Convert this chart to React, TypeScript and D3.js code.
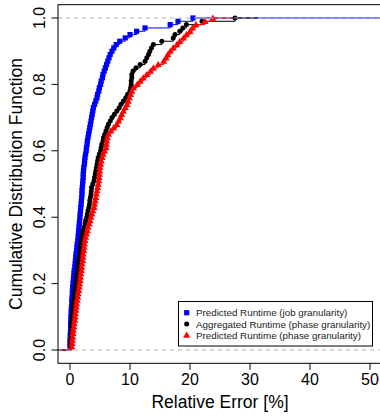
import React from "react";
import * as d3 from "d3";

// ---- data (sorted relative errors, %, one per observation) ----
const jobPred = [
  0.0, 0.0, 0.0, 0.05, 0.05, 0.1, 0.1, 0.1, 0.15, 0.15,
  0.2, 0.2, 0.25, 0.3, 0.3, 0.35, 0.4, 0.4, 0.45, 0.5,
  0.55, 0.6, 0.65, 0.7, 0.8, 0.85, 0.9, 0.95, 1.0, 1.1,
  1.15, 1.2, 1.3, 1.35, 1.4, 1.45, 1.5, 1.55, 1.6, 1.65,
  1.7, 1.75, 1.8, 1.85, 1.9, 1.95, 2.0, 2.0, 2.05, 2.1,
  2.15, 2.2, 2.2, 2.25, 2.3, 2.4, 2.45, 2.5, 2.6, 2.7,
  2.75, 2.85, 2.9, 3.0, 3.1, 3.2, 3.3, 3.4, 3.5, 3.6,
  3.7, 3.8, 3.9, 4.1, 4.3, 4.5, 4.6, 4.8, 4.9, 5.1,
  5.2, 5.4, 5.5, 5.7, 5.9, 6.1, 6.3, 6.5, 6.7, 7.0,
  7.3, 7.7, 8.3, 9.2, 10.0, 11.1, 12.5, 16.7, 18.0, 20.5,
];
const phaseAgg = [
  0.1, 0.1, 0.15, 0.2, 0.2, 0.25, 0.25, 0.3, 0.3, 0.4,
  0.45, 0.5, 0.55, 0.6, 0.65, 0.7, 0.8, 0.85, 0.9, 1.0,
  1.1, 1.15, 1.2, 1.3, 1.35, 1.4, 1.5, 1.55, 1.6, 1.7,
  1.75, 1.8, 1.9, 2.0, 2.1, 2.2, 2.35, 2.5, 2.6, 2.8,
  2.9, 3.0, 3.15, 3.25, 3.3, 3.4, 3.5, 3.55, 3.6, 3.8,
  4.0, 4.1, 4.2, 4.3, 4.4, 4.5, 4.6, 4.7, 4.9, 5.1,
  5.2, 5.3, 5.5, 5.6, 5.8, 6.0, 6.2, 6.4, 6.7, 7.0,
  7.4, 7.8, 8.2, 8.5, 8.9, 9.3, 9.6, 10.0, 10.1, 10.2,
  10.2, 10.3, 10.3, 10.5, 11.0, 11.7, 12.5, 12.8, 13.1, 13.3,
  13.6, 13.9, 15.3, 17.2, 17.5, 18.3, 18.8, 19.4, 22.0, 27.5,
];
const phasePred = [
  0.3, 0.35, 0.4, 0.45, 0.5, 0.55, 0.65, 0.7, 0.8, 0.85,
  0.9, 1.0, 1.05, 1.1, 1.2, 1.3, 1.35, 1.45, 1.55, 1.6,
  1.7, 1.75, 1.8, 1.9, 1.95, 2.0, 2.1, 2.15, 2.2, 2.3,
  2.35, 2.4, 2.5, 2.6, 2.75, 2.9, 3.0, 3.2, 3.35, 3.5,
  3.65, 3.8, 4.0, 4.1, 4.2, 4.3, 4.4, 4.5, 4.6, 4.7,
  4.8, 4.85, 4.9, 4.95, 5.0, 5.1, 5.2, 5.35, 5.5, 5.75,
  6.0, 6.05, 6.1, 6.2, 6.4, 6.8, 7.3, 7.8, 8.1, 8.4,
  8.6, 8.9, 9.2, 9.5, 9.7, 9.9, 10.1, 10.3, 10.6, 11.2,
  11.7, 12.2, 12.8, 13.4, 13.9, 14.7, 15.6, 16.0, 16.3, 16.7,
  17.2, 17.8, 18.3, 18.9, 19.4, 20.0, 20.4, 21.0, 22.5, 23.8,
];
const seriesNames = [
  "Predicted Runtime (job granularity)",
  "Aggregated Runtime (phase granularity)",
  "Predicted Runtime (phase granularity)",
];
const seriesColors = ["#0000FF", "#000000", "#FF0000"];
const seriesShapes = ["square", "circle", "triangle"];
// where each step function's flat tail at 1.0 ends (x, %)
const tailEnds = [53, 31.3, 27.2];
const xTicks = [0, 10, 20, 30, 40, 50];
const yTicks = [0, 0.2, 0.4, 0.6, 0.8, 1.0];
const refLines = [0, 1];

const W = 380;
const H = 418;
const FONT = "'Liberation Sans', Arial, Helvetica, sans-serif";

function Marker({ shape, x, y, color }: { shape: string; x: number; y: number; color: string }) {
  if (shape === "square") return <rect x={x - 2.6} y={y - 2.6} width={5.2} height={5.2} fill={color} />;
  if (shape === "circle") return <circle cx={x} cy={y} r={2.5} fill={color} />;
  const s = d3.symbol(d3.symbolTriangle, 22)();
  return <path d={s as string} transform={`translate(${x},${y + 0.6})`} fill={color} />;
}

export default function App() {
  const x = d3.scaleLinear().domain([-2, 52]).range([58, 382]);
  const y = d3.scaleLinear().domain([-0.04, 1.04]).range([363.3, 4.7]);
  const all = [jobPred, phaseAgg, phasePred];
  const line = d3
    .line<[number, number]>()
    .x((d) => x(d[0]))
    .y((d) => y(d[1]))
    .curve(d3.curveStepAfter);

  const [x0, x1] = x.range();
  const [yb, yt] = y.range();

  return (
    <svg width={W} height={H} style={{ position: "absolute", left: 0, top: 0, background: "#fff" }}>
      <defs>
        <clipPath id="plotclip">
          <rect x={x0} y={yt} width={x1 - x0} height={yb - yt} />
        </clipPath>
      </defs>
      <g clipPath="url(#plotclip)">
        {all.map((vals, si) => {
          const n = vals.length;
          const pts: [number, number][] = [[-3, 0]];
          vals.forEach((v, i) => pts.push([v, (i + 1) / n]));
          pts.push([tailEnds[si], 1]);
          return (
            <g key={si}>
              <path d={line(pts) as string} fill="none" stroke={seriesColors[si]} strokeWidth={1} />
              {vals.map((v, i) => (
                <Marker key={i} shape={seriesShapes[si]} x={x(v)} y={y((i + 1) / n)} color={seriesColors[si]} />
              ))}
            </g>
          );
        })}
        {refLines.map((r) => (
          <line key={r} x1={x0} x2={x1} y1={y(r)} y2={y(r)} stroke="#b4b4b4" strokeWidth={1} strokeDasharray="4 4" />
        ))}
      </g>
      {/* box */}
      <rect x={x0} y={yt} width={x1 - x0} height={yb - yt} fill="none" stroke="#000" strokeWidth={1} />
      {/* x axis */}
      {xTicks.map((t) => (
        <g key={t}>
          <line x1={x(t)} x2={x(t)} y1={yb} y2={yb + 6.5} stroke="#000" />
          <text x={x(t)} y={yb + 21.5} textAnchor="middle" fontSize={16} fontFamily={FONT} fill="#000">
            {t}
          </text>
        </g>
      ))}
      {yTicks.map((t) => (
        <g key={t}>
          <line x1={x0} x2={x0 - 6.5} y1={y(t)} y2={y(t)} stroke="#000" />
          <text
            transform={`translate(${x0 - 13.5},${y(t)}) rotate(-90)`}
            textAnchor="middle"
            fontSize={16}
            fontFamily={FONT}
            fill="#000"
          >
            {t.toFixed(1)}
          </text>
        </g>
      ))}
      <text x={(x0 + x1) / 2} y={408} textAnchor="middle" fontSize={17.5} fontFamily={FONT} fill="#000">
        Relative Error [%]
      </text>
      <text
        transform={`translate(21.5,${(yb + yt) / 2}) rotate(-90)`}
        textAnchor="middle"
        fontSize={17.5}
        fontFamily={FONT}
        fill="#000"
      >
        Cumulative Distribution Function
      </text>
      {/* legend */}
      <rect x={178.5} y={301.5} width={194} height={44.5} fill="#fff" stroke="#000" strokeWidth={1} />
      {seriesNames.map((name, i) => {
        const cy = 312.7 + i * 11.2;
        return (
          <g key={name}>
            <Marker shape={seriesShapes[i]} x={186.7} y={cy} color={seriesColors[i]} />
            <text x={196} y={cy + 3.6} fontSize={9.8} fontFamily={FONT} fill="#222">
              {name}
            </text>
          </g>
        );
      })}
    </svg>
  );
}
